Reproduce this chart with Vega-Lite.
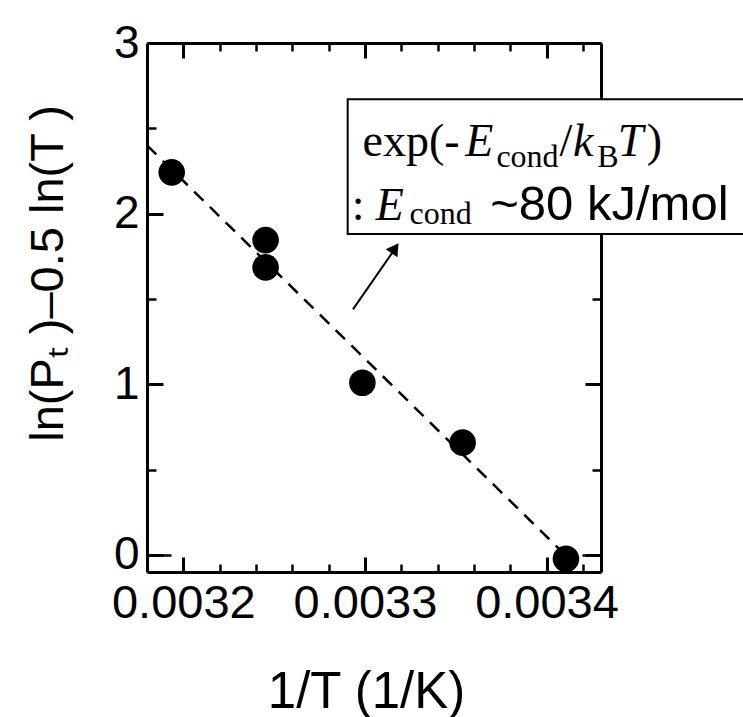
{
  "$schema": "https://vega.github.io/schema/vega-lite/v6.json",
  "autosize": "none",
  "width": 454,
  "height": 529,
  "padding": {"left": 147, "top": 43, "right": 142, "bottom": 145},
  "background": "white",
  "config": {"view": {"stroke": null}},
  "datasets": {
    "pts": [
      {"invT": 0.0031936, "val": 2.242},
      {"invT": 0.0032453, "val": 1.845},
      {"invT": 0.0032453, "val": 1.685},
      {"invT": 0.0032986, "val": 1.009},
      {"invT": 0.0033538, "val": 0.658},
      {"invT": 0.0034107, "val": -0.023}
    ],
    "fit": [
      {"invT": 0.00318, "val": 2.40},
      {"invT": 0.003407, "val": 0.035}
    ],
    "box": [
      {"x1": 0.0032905, "x2": 0.0035169, "y1": 2.671, "y2": 1.880}
    ],
    "arrow": [
      {"invT": 0.0032934, "val": 1.439},
      {"invT": 0.0033150, "val": 1.770}
    ],
    "head": [
      {"invT": 0.0033166, "val": 1.797}
    ],
    "serif": [
      {"invT": 0.0032987, "val": 2.335, "t": "exp(-"},
      {"invT": 0.0034072, "val": 2.335, "t": "/"},
      {"invT": 0.0034552, "val": 2.335, "t": ")"},
      {"invT": 0.0032927, "val": 1.9625, "t": ":"}
    ],
    "ital": [
      {"invT": 0.0033553, "val": 2.335, "t": "E"},
      {"invT": 0.0034146, "val": 2.335, "t": "k"},
      {"invT": 0.0034392, "val": 2.335, "t": "T"},
      {"invT": 0.0033059, "val": 1.9625, "t": "E"}
    ],
    "sub": [
      {"invT": 0.0033724, "val": 2.271, "t": "cond"},
      {"invT": 0.0034280, "val": 2.271, "t": "B"},
      {"invT": 0.0033246, "val": 1.939, "t": "cond"}
    ],
    "sans": [
      {"invT": 0.0033690, "val": 1.9625, "t": "~80 kJ/mol"}
    ]
  },
  "resolve": {"axis": {"x": "independent", "y": "independent"}},
  "layer": [
    {
      "data": {"name": "fit"},
      "mark": {"type": "line", "stroke": "black", "strokeWidth": 2.5, "strokeDash": [13, 9]},
      "encoding": {
        "x": {
          "field": "invT", "type": "quantitative",
          "scale": {"domain": [0.00318, 0.00343], "nice": false, "zero": false},
          "axis": {
            "orient": "bottom", "values": [0.0032, 0.0033, 0.0034], "format": ".4f",
            "tickSize": -15, "tickWidth": 3, "tickColor": "black",
            "domain": true, "domainWidth": 3, "domainColor": "black", "grid": false,
            "labelFont": "Liberation Sans", "labelFontSize": 47, "labelColor": "black",
            "labelPadding": 23, "labelFlush": false, "labelOverlap": false,
            "title": "1/T (1/K)", "titleFont": "Liberation Sans", "titleFontSize": 51,
            "titleFontWeight": "normal", "titleColor": "black",
            "titleX": 219, "titleY": 135, "titleBaseline": "alphabetic"
          }
        },
        "y": {
          "field": "val", "type": "quantitative",
          "scale": {"domain": [-0.1, 3], "nice": false, "zero": false},
          "axis": {
            "orient": "left", "values": [0, 1, 2, 3], "format": "d",
            "tickSize": -16, "tickWidth": 3, "tickColor": "black",
            "domain": true, "domainWidth": 3, "domainColor": "black", "grid": false,
            "labelFont": "Liberation Sans", "labelFontSize": 46, "labelColor": "black",
            "labelPadding": 24, "labelFlush": false, "labelOverlap": false,
            "title": "ln(Pₜ )–0.5 ln(T )", "titleFont": "Liberation Sans", "titleFontSize": 47,
            "titleFontWeight": "normal", "titleColor": "black",
            "titleX": -85, "titleY": 230, "titleBaseline": "alphabetic"
          }
        }
      }
    },
    {
      "data": {"name": "pts"},
      "mark": {"type": "point", "shape": "circle", "filled": true, "fill": "black", "stroke": null, "size": 707, "opacity": 1},
      "encoding": {
        "x": {
          "field": "invT", "type": "quantitative",
          "axis": {
            "orient": "bottom",
            "values": [0.00322, 0.00324, 0.00326, 0.00328, 0.00332, 0.00334, 0.00336, 0.00338, 0.00342],
            "tickSize": -8, "tickWidth": 2.5, "tickColor": "black",
            "domain": false, "grid": false, "labels": false, "title": null
          }
        },
        "y": {
          "field": "val", "type": "quantitative",
          "axis": {
            "orient": "left", "values": [0, 0.5, 1.5, 2.5],
            "tickSize": {"condition": {"test": "datum.value === 0", "value": -24}, "value": -9},
            "tickWidth": 2.5, "tickColor": "black",
            "domain": false, "grid": false, "labels": false, "title": null
          }
        }
      }
    },
    {
      "data": {"name": "arrow"},
      "mark": {"type": "line", "stroke": "black", "strokeWidth": 2},
      "encoding": {
        "x": {
          "field": "invT", "type": "quantitative",
          "axis": {
            "orient": "top", "values": [0.0032, 0.0033, 0.0034],
            "tickSize": -15, "tickWidth": 3, "tickColor": "black",
            "domain": true, "domainWidth": 3, "domainColor": "black", "grid": false, "labels": false, "title": null
          }
        },
        "y": {
          "field": "val", "type": "quantitative",
          "axis": {
            "orient": "right", "values": [0, 1, 2, 3],
            "tickSize": -16, "tickWidth": 3, "tickColor": "black",
            "domain": true, "domainWidth": 3, "domainColor": "black", "grid": false, "labels": false, "title": null
          }
        }
      }
    },
    {
      "data": {"name": "head"},
      "mark": {"type": "point", "shape": "triangle-up", "filled": true, "fill": "black", "stroke": null, "size": 200, "angle": 34.6, "opacity": 1},
      "encoding": {
        "x": {
          "field": "invT", "type": "quantitative",
          "axis": {
            "orient": "top",
            "values": [0.00322, 0.00324, 0.00326, 0.00328, 0.00332, 0.00334, 0.00336, 0.00338, 0.00342],
            "tickSize": -8, "tickWidth": 2.5, "tickColor": "black",
            "domain": false, "grid": false, "labels": false, "title": null
          }
        },
        "y": {
          "field": "val", "type": "quantitative",
          "axis": {
            "orient": "right", "values": [0, 0.5, 1.5, 2.5],
            "tickSize": {"condition": {"test": "datum.value === 0", "value": -19}, "value": -9},
            "tickWidth": 2.5, "tickColor": "black",
            "domain": false, "grid": false, "labels": false, "title": null
          }
        }
      }
    },
    {
      "data": {"name": "box"},
      "mark": {"type": "rect", "fill": "white", "stroke": "black", "strokeWidth": 2},
      "encoding": {
        "x": {"field": "x1", "type": "quantitative", "axis": null},
        "x2": {"field": "x2"},
        "y": {"field": "y1", "type": "quantitative", "axis": null},
        "y2": {"field": "y2"}
      }
    },
    {
      "data": {"name": "serif"},
      "mark": {"type": "text", "align": "left", "baseline": "alphabetic", "font": "Liberation Serif", "fontSize": 46, "fill": "black"},
      "encoding": {
        "x": {"field": "invT", "type": "quantitative", "axis": null},
        "y": {"field": "val", "type": "quantitative", "axis": null},
        "text": {"field": "t"}
      }
    },
    {
      "data": {"name": "ital"},
      "mark": {"type": "text", "align": "left", "baseline": "alphabetic", "font": "Liberation Serif", "fontStyle": "italic", "fontSize": 46, "fill": "black"},
      "encoding": {
        "x": {"field": "invT", "type": "quantitative", "axis": null},
        "y": {"field": "val", "type": "quantitative", "axis": null},
        "text": {"field": "t"}
      }
    },
    {
      "data": {"name": "sub"},
      "mark": {"type": "text", "align": "left", "baseline": "alphabetic", "font": "Liberation Serif", "fontSize": 32, "fill": "black"},
      "encoding": {
        "x": {"field": "invT", "type": "quantitative", "axis": null},
        "y": {"field": "val", "type": "quantitative", "axis": null},
        "text": {"field": "t"}
      }
    },
    {
      "data": {"name": "sans"},
      "mark": {"type": "text", "align": "left", "baseline": "alphabetic", "font": "Liberation Sans", "fontSize": 49, "fill": "black"},
      "encoding": {
        "x": {"field": "invT", "type": "quantitative", "axis": null},
        "y": {"field": "val", "type": "quantitative", "axis": null},
        "text": {"field": "t"}
      }
    }
  ]
}
